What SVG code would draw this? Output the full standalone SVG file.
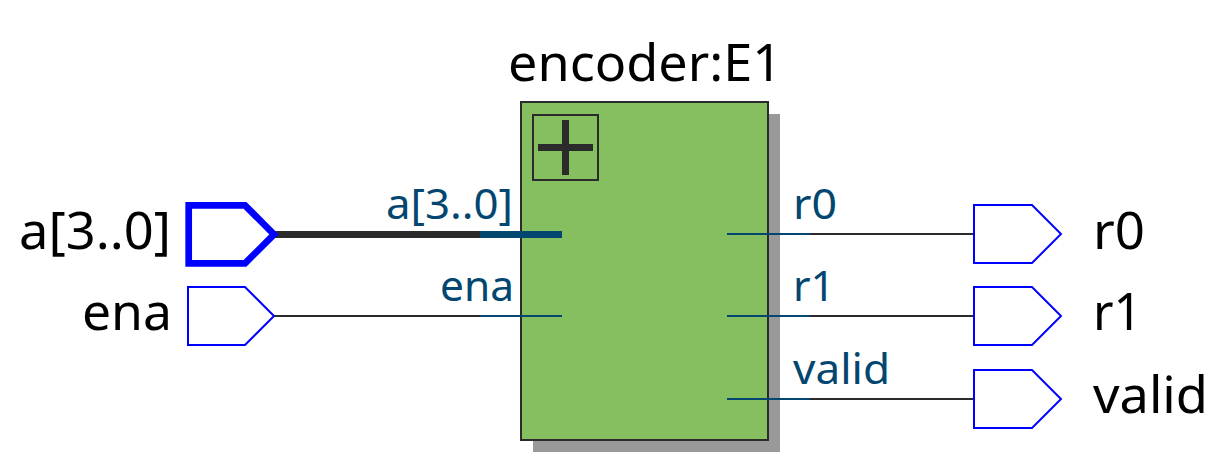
<svg xmlns="http://www.w3.org/2000/svg" width="1217" height="472" viewBox="0 0 1217 472">
<style>
text{font-family:"Noto Sans","Open Sans",sans-serif;}
.n{font-size:51px;fill:#000}
.p{font-size:42px;fill:#034670}
.pin{fill:#fff;stroke:#0000ff;stroke-width:2}
.w{stroke:#2b2b2b;stroke-width:2;fill:none}
.s{stroke:#034670;stroke-width:2;fill:none}
</style>
<rect width="1217" height="472" fill="#fff"/>
<g id="encoder">
<rect x="533" y="114" width="247" height="338" fill="#999"/>
<rect x="521" y="102" width="247" height="338" fill="#85bf5f" stroke="#2b2b2b" stroke-width="2"/>
<rect x="533" y="115" width="65" height="65" fill="none" stroke="#2b2b2b" stroke-width="2"/>
<path d="M565.500 120V175M538 147.500H593" stroke="#2b2b2b" stroke-width="7" fill="none"/>
<text class="n" x="508" y="81" textLength="274" lengthAdjust="spacingAndGlyphs">encoder:E1</text>
<text class="p" x="386" y="219" textLength="127" lengthAdjust="spacingAndGlyphs">a[3..0]</text>
<text class="p" x="440" y="301" textLength="74" lengthAdjust="spacingAndGlyphs">ena</text>
<text class="p" x="793" y="219" textLength="44" lengthAdjust="spacingAndGlyphs">r0</text>
<text class="p" x="793" y="301" textLength="42" lengthAdjust="spacingAndGlyphs">r1</text>
<text class="p" x="793" y="384" textLength="97" lengthAdjust="spacingAndGlyphs">valid</text>
</g>
<g id="connectors">
<path d="M274 234.500H480" stroke="#2b2b2b" stroke-width="7" fill="none"/>
<path d="M480 234.500H562" stroke="#034670" stroke-width="7" fill="none"/>
<path class="w" d="M274 316H480"/><path class="s" d="M480 316H562"/>
<path class="s" d="M727 234H810"/><path class="w" d="M810 234H974"/>
<path class="s" d="M727 316H810"/><path class="w" d="M810 316H974"/>
<path class="s" d="M727 399H810"/><path class="w" d="M810 399H974"/>
</g>
<g id="in-a"><path d="M188.700 205.300H245L274 234.500L245 263.300H188.700Z" fill="#fff" stroke="#0000ff" stroke-width="6.700"/><text class="n" x="19" y="248.500" textLength="152" lengthAdjust="spacingAndGlyphs">a[3..0]</text></g>
<g id="in-ena"><path class="pin" d="M188 287H245L274 316L245 345H188Z"/><text class="n" x="82" y="330" textLength="90" lengthAdjust="spacingAndGlyphs">ena</text></g>
<g id="out-r0"><path class="pin" d="M974 205H1032L1061 234L1032 263H974Z"/><text class="n" x="1093" y="248.500" textLength="52" lengthAdjust="spacingAndGlyphs">r0</text></g>
<g id="out-r1"><path class="pin" d="M974 287H1032L1061 316L1032 345H974Z"/><text class="n" x="1093" y="330" textLength="49" lengthAdjust="spacingAndGlyphs">r1</text></g>
<g id="out-valid"><path class="pin" d="M974 370H1032L1061 399L1032 428H974Z"/><text class="n" x="1093" y="412.500" textLength="115" lengthAdjust="spacingAndGlyphs">valid</text></g>
</svg>
